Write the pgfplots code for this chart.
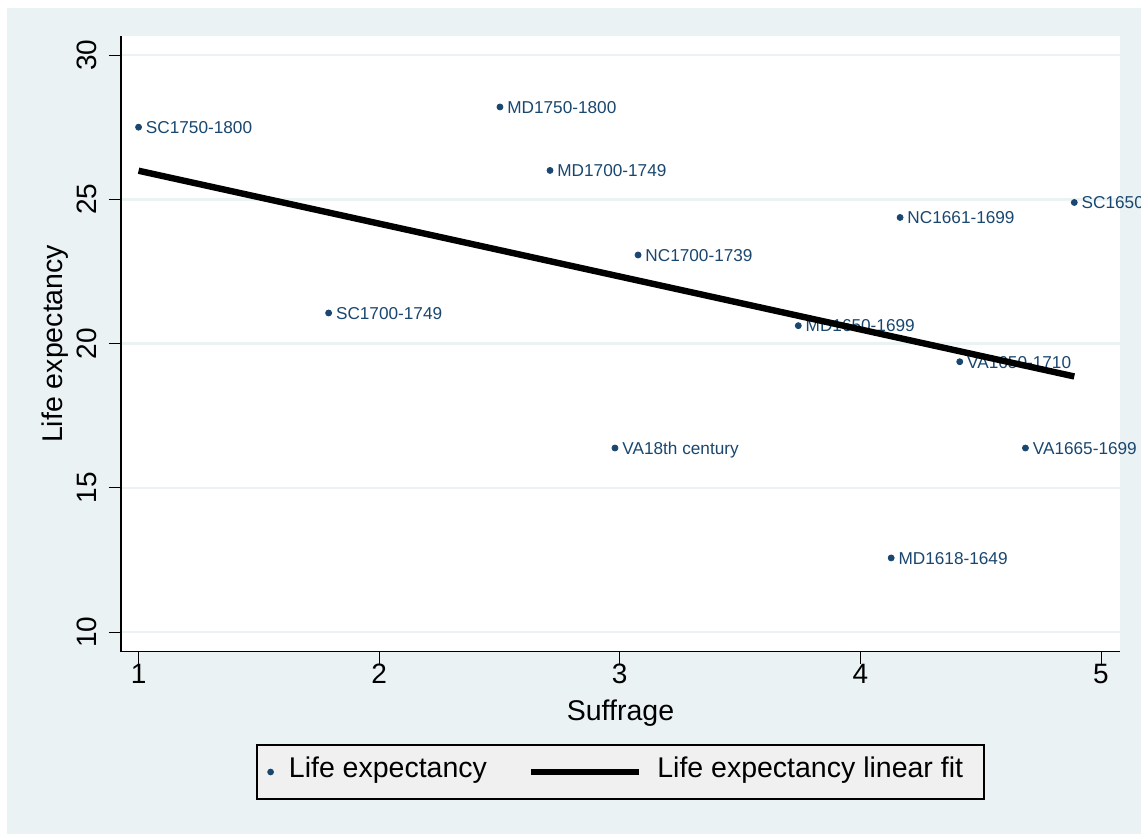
\documentclass[border=0pt]{standalone}
\usepackage{fontspec}
\setmainfont{Liberation Sans}
\usepackage{pgfplots}
\pgfplotsset{compat=1.18}

\definecolor{stbg}{RGB}{234,242,243}
\definecolor{stnavy}{RGB}{26,71,111}
\definecolor{stleg}{RGB}{240,240,240}

\begin{document}
\begin{tikzpicture}
% graph region: white outer margin, light blue-grey plot region
\clip (0,0) rectangle (570.5pt,-417pt);
\fill[white] (0,0) rectangle (570.5pt,-417pt);
\fill[stbg] (3.5pt,-4pt) rectangle (570.5pt,-417pt);
\begin{axis}[
  at={(60.5pt,-325.85pt)}, anchor=south west,
  scale only axis, width=499.5pt, height=307.85pt,
  xmin=0.927, xmax=5.079, ymin=9.32, ymax=30.66,
  clip=false, clip mode=individual,
  axis background/.style={fill=white},
  axis x line*=bottom, axis y line*=left,
  axis line style={line width=0.7pt, black},
  xtick={1,2,3,4,5}, ytick={10,15,20,25,30},
  tick align=outside, major tick length=6pt,
  tick style={black, line width=0.5pt},
  ymajorgrids, grid style={stbg, line width=1.2pt},
  /pgf/number format/assume math mode=true,
  tick label style={font=\fontsize{14}{16}\selectfont},
  xticklabel style={anchor=north, inner sep=0pt, text height=0.71em, text depth=0pt, yshift=-2.5pt},
  yticklabel style={rotate=90, anchor=south, inner sep=0pt, text height=0.71em, text depth=0pt, yshift=6pt},
  xlabel={Suffrage}, ylabel={Life expectancy},
  every axis x label/.style={at={(axis description cs:0.5,-0.099)}, anchor=center,
    font=\fontsize{14.25}{17}\selectfont},
  every axis y label/.style={at={(axis description cs:-0.066,0.5)}, rotate=90, anchor=center,
    font=\fontsize{14.25}{17}\selectfont},
  legend style={at={(0.5,-0.1954)}, anchor=center, draw=black, line width=0.8pt,
    fill=stleg, legend columns=2, inner xsep=5.2pt, inner ysep=8.7pt,
    column sep=7.5pt, font=\fontsize{14.25}{17}\selectfont,
    /tikz/every even column/.append style={column sep=20.5pt},
    nodes={inner sep=0pt, text height=0.75em, text depth=0.21em}},
  legend cell align=left,
]
\addplot[only marks, mark=*, mark size=1.5pt, color=stnavy,
  nodes near coords, point meta=explicit symbolic,
  every node near coord/.append style={anchor=base west, inner sep=0pt,
    font=\fontsize{8.6}{10}\selectfont, text=stnavy, xshift=3.5pt, yshift=-3.15pt},
  legend image code/.code={\fill[stnavy] (0pt,0pt) circle (1.25pt);}]
  table[col sep=comma, x=x, y=y, meta=label] {
x,y,label
1.000,27.50,SC1750-1800
2.502,28.20,MD1750-1800
2.710,26.00,MD1700-1749
3.076,23.07,NC1700-1739
1.790,21.06,SC1700-1749
3.742,20.62,MD1650-1699
4.165,24.37,NC1661-1699
4.889,24.89,SC1650-1699
4.413,19.37,VA1650-1710
2.980,16.38,VA18th century
4.686,16.38,VA1665-1699
4.128,12.57,MD1618-1649
};
\addlegendentry{Life expectancy}
\addplot[black, line width=3.2pt,
  legend image code/.code={\draw[black, line width=3.2pt] (0pt,0pt) -- (54pt,0pt);}]
  coordinates {(1,25.99) (4.889,18.86)};
\addlegendentry{Life expectancy linear fit\kern5.3pt}
\end{axis}
\end{tikzpicture}
\end{document}
